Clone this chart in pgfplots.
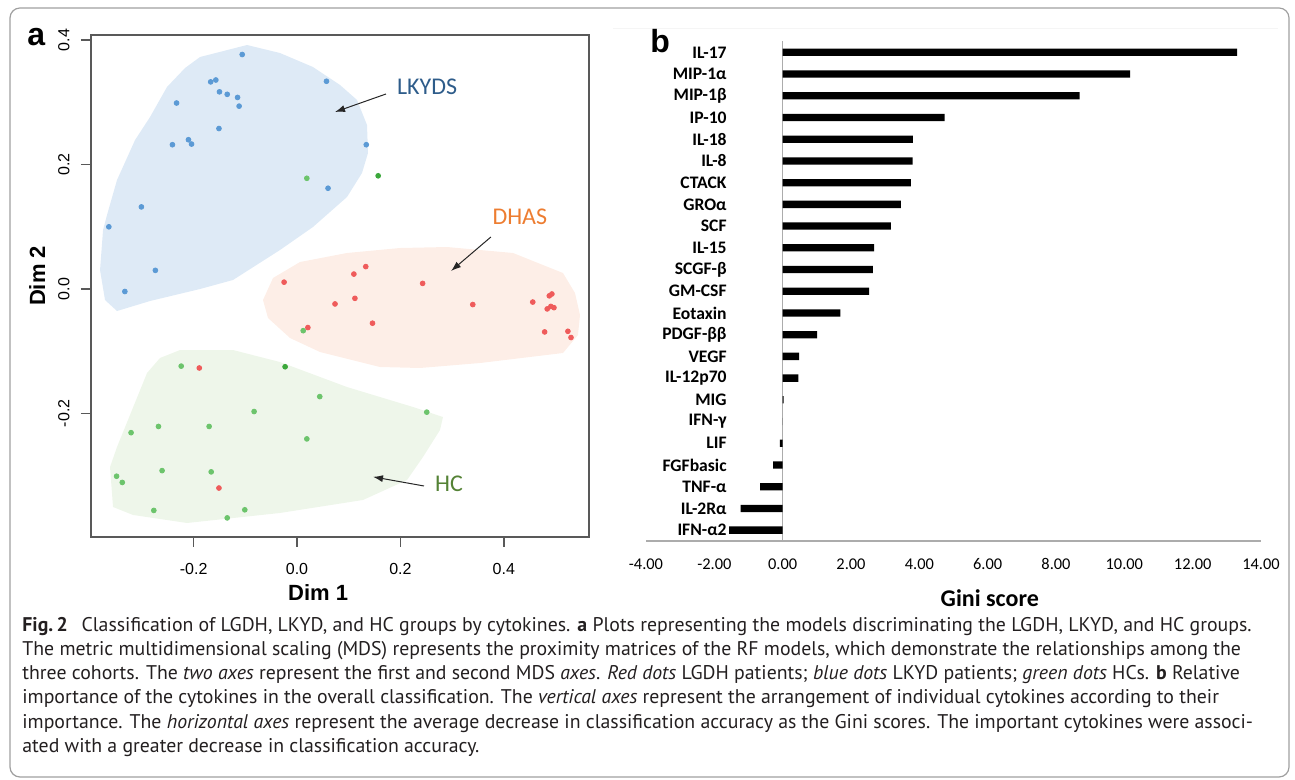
\documentclass[border=0pt]{standalone}
\usepackage{fontspec}
\setmainfont{Carlito}
\newfontfamily\arialfont{Liberation Sans}
\newfontfamily\capfont{PT Sans}
\usepackage{pgfplots}
\pgfplotsset{compat=1.18}
\usetikzlibrary{arrows.meta}

\definecolor{dotblue}{HTML}{5B9AD5}
\definecolor{dotred}{HTML}{EF5B5B}
\definecolor{dotgreen}{HTML}{6CC46C}
\definecolor{dotgreendk}{HTML}{3BA83B}
\definecolor{regblue}{HTML}{DEEAF6}
\definecolor{regred}{HTML}{FDEEE7}
\definecolor{reggreen}{HTML}{EEF6EA}
\definecolor{txtblue}{HTML}{2E5C8A}
\definecolor{txtorange}{HTML}{ED7D31}
\definecolor{txtgreen}{HTML}{548235}
\definecolor{capgray}{HTML}{231F20}

\begin{document}
\begin{tikzpicture}[x=0.5pt,y=0.5pt]
\useasboundingbox (0,0) rectangle (1295,780);
\draw[gray!75, line width=0.6pt, rounded corners=5pt] (10,3) rectangle (1289,772);
\draw[gray!8, line width=0.5pt] (613,751) -- (1278,751);

% ---- panel a: MDS plot
\begin{axis}[
  at={(45.5pt,121.5pt)}, anchor=south west,
  scale only axis, width=249pt, height=251pt,
  xmin=-0.3985, xmax=0.5648, ymin=-0.3987, ymax=0.4084,
  xtick={-0.2,0,0.2,0.4}, ytick={-0.2,0,0.2,0.4},
  xticklabels={-0.2,0.0,0.2,0.4}, yticklabels={-0.2,0.0,0.2,0.4},
  tick align=outside, major tick length=5pt, tick pos=left,
  axis line style={draw=black!65, line width=0.8pt},
  tick style={draw=black!65, line width=0.8pt},
  ticklabel style={font=\arialfont\fontsize{8}{9}\selectfont},
  xticklabel shift=8pt, yticklabel shift=5.5pt,
  xticklabel style={inner sep=0pt, anchor=north},
  yticklabel style={inner sep=0pt, rotate=90, anchor=south},
  xlabel={Dim 1}, ylabel={Dim 2},
  xlabel style={font=\arialfont\bfseries\fontsize{11}{12}\selectfont, at={(rel axis cs:0.456,-0.1116)}, anchor=center},
  ylabel style={font=\arialfont\bfseries\fontsize{11}{12}\selectfont, at={(rel axis cs:-0.108,0.52)}, anchor=center},
  clip=false,
]
% group regions
\addplot[fill=regblue, draw=none] coordinates {
(-0.1876,0.3730) (-0.0967,0.3923) (-0.0329,0.3794) (0.0309,0.3569) (0.0832,0.3280)
(0.1161,0.3039) (0.1354,0.2637) (0.1373,0.2186) (0.1257,0.1865) (0.0967,0.1479)
(0.0309,0.0997) (-0.0329,0.0627) (-0.1238,0.0145) (-0.1876,0.0000) (-0.2843,-0.0193)
(-0.3482,-0.0354) (-0.3714,-0.0177) (-0.3810,0.0305) (-0.3752,0.0949) (-0.3675,0.1190)
(-0.3482,0.1752) (-0.3133,0.2395) (-0.2843,0.2765) (-0.2515,0.3248) (-0.2166,0.3553)
} -- cycle;
\addplot[fill=regred, draw=none] coordinates {
(-0.0464,0.0177) (0.0058,0.0434) (0.0967,0.0579) (0.1992,0.0659) (0.2901,0.0675)
(0.4178,0.0579) (0.5145,0.0257) (0.5377,-0.0064) (0.5474,-0.0418) (0.5435,-0.0740)
(0.5145,-0.1029) (0.3540,-0.1190) (0.2379,-0.1270) (0.1605,-0.1254) (0.0445,-0.1013)
(-0.0135,-0.0788) (-0.0561,-0.0466) (-0.0658,-0.0177)
} -- cycle;
\addplot[fill=reggreen, draw=none] coordinates {
(-0.2263,-0.0981) (-0.1238,-0.0981) (-0.0329,-0.1174) (0.0967,-0.1576) (0.2244,-0.1897)
(0.2824,-0.2058) (0.2766,-0.2267) (0.2437,-0.2701) (0.2128,-0.3071) (0.1277,-0.3392)
(-0.0329,-0.3601) (-0.2128,-0.3762) (-0.3172,-0.3633) (-0.3559,-0.3505) (-0.3617,-0.2862)
(-0.3482,-0.2540) (-0.2901,-0.1350) (-0.2650,-0.1109)
} -- cycle;
% HC
\addplot[only marks, mark=*, mark size=1.2pt, mark options={draw=dotgreen, fill=dotgreen}] coordinates {
(0.019,0.178) (0.012,-0.067) (0.044,-0.173) (0.251,-0.198) (0.019,-0.241)
(-0.224,-0.124) (-0.083,-0.197) (-0.268,-0.221) (-0.170,-0.221) (-0.321,-0.231)
(-0.261,-0.292) (-0.166,-0.294) (-0.349,-0.301) (-0.338,-0.311) (-0.277,-0.356)
(-0.101,-0.355) (-0.135,-0.368)
};
\addplot[only marks, mark=*, mark size=1.2pt, mark options={draw=dotgreendk, fill=dotgreendk}] coordinates {
(0.157,0.182) (-0.023,-0.125)
};
% LKYD
\addplot[only marks, mark=*, mark size=1.2pt, mark options={draw=dotblue, fill=dotblue}] coordinates {
(-0.106,0.377) (-0.167,0.333) (-0.157,0.336) (-0.150,0.317) (-0.135,0.313)
(-0.115,0.308) (-0.112,0.294) (-0.233,0.299) (-0.151,0.258) (-0.210,0.240)
(-0.204,0.233) (-0.241,0.232) (-0.301,0.132) (-0.364,0.100) (-0.274,0.030)
(-0.333,-0.004) (0.057,0.334) (0.134,0.232) (0.060,0.162)
};
% LGDH
\addplot[only marks, mark=*, mark size=1.2pt, mark options={draw=dotred, fill=dotred}] coordinates {
(-0.025,0.011) (0.133,0.036) (0.110,0.024) (0.243,0.009) (0.112,-0.015)
(0.0735,-0.024) (0.340,-0.025) (0.146,-0.055) (0.021,-0.062) (0.456,-0.021)
(0.488,-0.011) (0.493,-0.008) (0.484,-0.032) (0.491,-0.028) (0.497,-0.030)
(0.479,-0.069) (0.524,-0.068) (0.530,-0.078) (-0.189,-0.127) (-0.151,-0.320)
};
% annotations
\draw[-{Latex[length=5pt,width=3.5pt]}, line width=0.5pt, black!85] (axis cs:0.172,0.3135) -- (axis cs:0.0735,0.2846);
\draw[-{Latex[length=5pt,width=3.5pt]}, line width=0.5pt, black!85] (axis cs:0.375,0.0836) -- (axis cs:0.298,0.029);
\draw[-{Latex[length=5pt,width=3.5pt]}, line width=0.5pt, black!85] (axis cs:0.2456,-0.3167) -- (axis cs:0.147,-0.302);
\node[text=txtblue, font=\fontsize{12}{14}\selectfont] at (axis cs:0.2515,0.325) {LKYDS};
\node[text=txtorange, font=\fontsize{12}{14}\selectfont] at (axis cs:0.431,0.116) {DHAS};
\node[text=txtgreen, font=\fontsize{12}{14}\selectfont] at (axis cs:0.294,-0.3135) {HC};
\end{axis}
\node[anchor=base west, inner sep=0pt, font=\arialfont\bfseries\fontsize{16}{18}\selectfont] at (27,734) {a};

% ---- panel b: Gini scores
\begin{axis}[
  at={(323pt,119.5pt)}, anchor=south west,
  scale only axis, width=307.5pt, height=249.75pt,
  xbar, bar width=3.65pt,
  xmin=-4, xmax=14, ymin=-0.5, ymax=22.5,
  xtick={-4,-2,0,2,4,6,8,10,12,14},
  xticklabels={-4.00,-2.00,0.00,2.00,4.00,6.00,8.00,10.00,12.00,14.00},
  ytick={0,...,22},
  yticklabels={{IFN-α2},{IL-2Rα},{TNF-α},{FGFbasic},{LIF},{IFN-γ},{MIG},{IL-12p70},{VEGF},{PDGF-ββ},{Eotaxin},{GM-CSF},{SCGF-β},{IL-15},{SCF},{GROα},{CTACK},{IL-8},{IL-18},{IP-10},{MIP-1β},{MIP-1α},{IL-17}},
  axis line style={draw=none}, tick style={draw=none}, major tick length=0pt,
  yticklabel style={font=\bfseries\fontsize{8.8}{10}\selectfont, anchor=east, inner sep=0pt, xshift=40.5pt},
  xticklabel style={font=\fontsize{8.2}{10}\selectfont, anchor=north, inner sep=0pt, yshift=-8.5pt},
  xlabel={Gini score},
  xlabel style={font=\bfseries\fontsize{12}{14}\selectfont, at={(rel axis cs:0.559,-0.114)}, anchor=center},
  clip=false,
]
\draw[gray!65, line width=0.7pt] (axis cs:-4,-0.5) -- (axis cs:14,-0.5);
\draw[gray!65, line width=0.7pt] (axis cs:0,-0.5) -- (axis cs:0,22.5);
\addplot[fill=black, draw=none] coordinates {
(-1.57,0) (-1.23,1) (-0.66,2) (-0.28,3) (-0.08,4) (0.00,5) (0.03,6) (0.46,7)
(0.48,8) (1.01,9) (1.69,10) (2.53,11) (2.64,12) (2.68,13) (3.17,14) (3.46,15)
(3.75,16) (3.80,17) (3.81,18) (4.74,19) (8.69,20) (10.17,21) (13.30,22)
};
\end{axis}
\node[anchor=base west, inner sep=0pt, font=\arialfont\bfseries\fontsize{16}{18}\selectfont] at (650,727) {b};

% ---- caption
\begin{scope}[every node/.style={anchor=base west, inner sep=0pt, text=capgray, font=\capfont\fontsize{9.9}{12}\selectfont}]
\node at (22,148) {\textbf{Fig.\,2}\hspace{0.7em}Classification of LGDH, LKYD, and HC groups by cytokines. \textbf{a} Plots representing the models discriminating the LGDH, LKYD, and HC groups.};
\node at (22,124) {The metric multidimensional scaling (MDS) represents the proximity matrices of the RF models, which demonstrate the relationships among the};
\node at (22,100) {three cohorts. The \textit{two axes} represent the first and second MDS \textit{axes}. \textit{Red dots} LGDH patients; \textit{blue dots} LKYD patients; \textit{green dots} HCs. \textbf{b} Relative};
\node at (22,76) {importance of the cytokines in the overall classification. The \textit{vertical axes} represent the arrangement of individual cytokines according to their};
\node at (22,51) {importance. The \textit{horizontal axes} represent the average decrease in classification accuracy as the Gini scores. The important cytokines were associ-};
\node at (22,27) {ated with a greater decrease in classification accuracy.};
\end{scope}
\end{tikzpicture}
\end{document}
